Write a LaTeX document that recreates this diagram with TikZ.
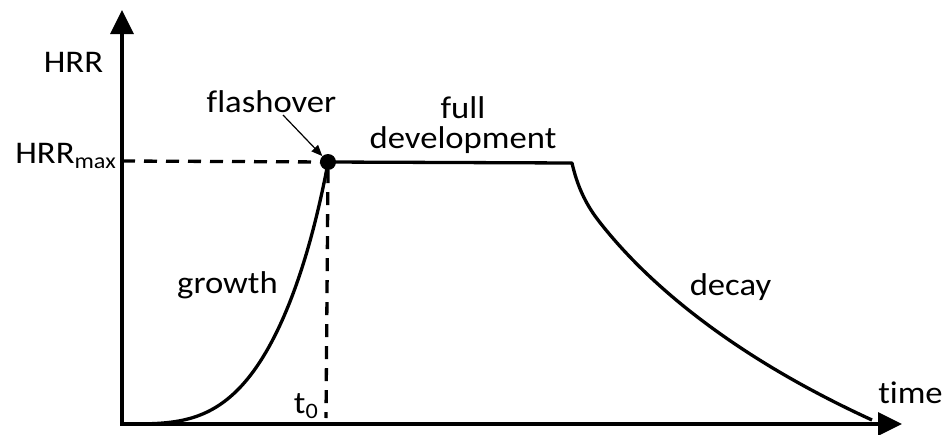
\documentclass[tikz,border=0pt]{standalone}
\usepackage{fontspec}
\setmainfont[FakeStretch=1.1, Ligatures=CommonOff]{Carlito}
\usetikzlibrary{arrows.meta}
\begin{document}
\begin{tikzpicture}[x=1pt,y=-1pt,
  axis/.style={line width=3.3pt, line join=miter,
    {Triangle[length=24pt,width=23pt]}-{Triangle[length=24pt,width=23pt]}},
  curve/.style={line width=3.3pt, line join=round},
  dashline/.style={line width=3.3pt, dash pattern=on 13pt off 9pt},
  lbl/.style={inner sep=0pt, font=\fontsize{31.5}{31.5}\selectfont},
  pointer/.style={line width=1.2pt, -{Triangle[length=11pt,width=9pt]}},
  dot/.style={circle, fill=black, inner sep=0pt, minimum size=16pt}]
\useasboundingbox (0,0) rectangle (951,434);
\newcommand{\subtxt}[1]{\raisebox{-5pt}{\fontsize{22}{22}\selectfont #1}}
% axes
\coordinate (O) at (122,424);
\coordinate (ytop) at (122,10);
\coordinate (xend) at (902,424);
\draw[axis] (ytop) -- (O) -- (xend);
% key points
\node[dot] (fo) at (328,162) {};
\coordinate (hm) at (122,161);
\coordinate (tb) at (326,418);
\coordinate (fa) at (283,115);
\coordinate (pe) at (572,163);
\coordinate (de) at (872,420);
% dashed guides
\draw[dashline] (hm) -- (fo.center);
\draw[dashline] (fo.south) -- (tb);
% growth
\draw[curve] (O) -- plot[domain=2:206, samples=70, variable=\t]
  ({122+\t}, {424-261*(0.93*(\t/206)^3*(\t/206)^0.4 + 0.07*(\t/206)^14)}) -- (fo.center);
% plateau and decay
\draw[curve] (fo.center) -- (pe) .. controls (577,185) and (585,203) .. (598,220)
  .. controls (645,281) and (730,355) .. (de);
% flashover pointer
\draw[pointer] (fa) -- (fo);
% labels
\node[lbl, anchor=base] (lhrr) at (73.5,72) {HRR};
\node[lbl, anchor=base east] (lhrrmax) at (116,163) {HRR\subtxt{max}};
\node[lbl, anchor=base] (lflash) at (271.5,112) {flashover};
\node[lbl, anchor=base] (lfull) at (463,118) {full};
\node[lbl, anchor=base] (ldev) at (463,148) {development};
\node[lbl, anchor=base] (lgrowth) at (227.5,293) {growth};
\node[lbl, anchor=base] (ldecay) at (730.5,295) {decay};
\node[lbl, anchor=base] (ltime) at (910.5,403) {time};
\node[lbl, anchor=base east] (lt0) at (318,413) {t\subtxt{0}};
\end{tikzpicture}
\end{document}
